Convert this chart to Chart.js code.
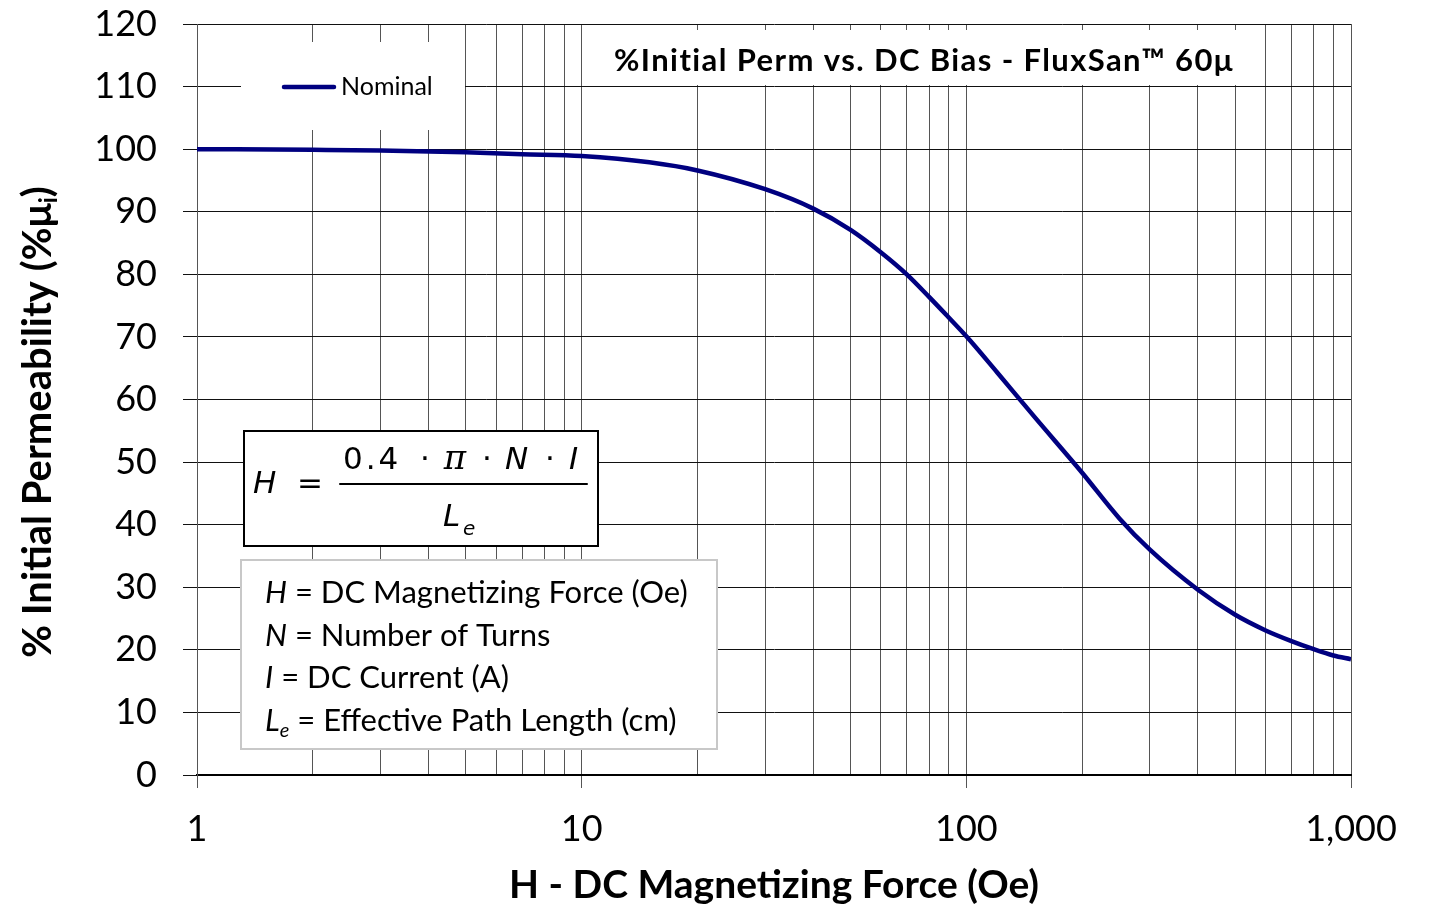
<!DOCTYPE html>
<html>
<head>
<meta charset="utf-8">
<title>%Initial Perm vs. DC Bias - FluxSan™ 60μ</title>
<script src="https://cdn.jsdelivr.net/npm/chart.js@4.4.1/dist/chart.umd.min.js"></script>
<style>
  html, body { margin: 0; padding: 0; background: #fff; }
  #wrap { position: relative; width: 1438px; height: 914px; }
</style>
</head>
<body>
<div id="wrap"><canvas id="permChart"></canvas></div>
<script>
// H (Oe) sample points
const hOersted = [1, 2, 3, 5, 7, 10, 15, 20, 30, 40, 50, 60, 70, 80, 90, 100, 120, 150, 200, 250, 300, 400, 500, 600, 700, 800, 900, 1000];
// % of initial permeability, nominal curve
const permNominal = [100, 99.9, 99.8, 99.5, 99.2, 98.9, 97.9, 96.6, 93.6, 90.5, 87.1, 83.5, 80.0, 76.4, 73.1, 70.1, 64.4, 57.3, 48.3, 41.0, 36.0, 29.6, 25.6, 23.1, 21.4, 20.1, 19.1, 18.5];

const yTicks = [0, 10, 20, 30, 40, 50, 60, 70, 80, 90, 100, 110, 120];
const xGridValues = [1, 2, 3, 4, 5, 6, 7, 8, 9, 10, 20, 30, 40, 50, 60, 70, 80, 90, 100, 200, 300, 400, 500, 600, 700, 800, 900, 1000];
const xDecades = [1, 10, 100, 1000];
const xTickLabels = ["1", "10", "100", "1,000"];

const chartTitle = "%Initial Perm vs. DC Bias - FluxSan™ 60μ";
const xTitle = "H - DC Magnetizing Force (Oe)";

const NAVY = "#000080";

Chart.defaults.font.family = "Lato, 'Open Sans', sans-serif";
Chart.defaults.color = "#000";

function drawRuns(ctx, runs, x, y) {
  runs.forEach((r) => {
    ctx.font = r.font;
    ctx.fillText(r.text, x, y + (r.dy || 0));
    x += ctx.measureText(r.text).width;
  });
  return x;
}

function runsWidth(ctx, runs) {
  let w = 0;
  runs.forEach((r) => {
    ctx.font = r.font;
    w += ctx.measureText(r.text).width;
  });
  return w;
}

function drawTitleBox(ctx) {
  ctx.fillStyle = "#fff";
  ctx.fillRect(598, 30, 650, 55);
  ctx.fillStyle = "#000";
  ctx.font = "bold 31px Lato";
  ctx.letterSpacing = "1.4px";
  ctx.textAlign = "center";
  ctx.fillText(chartTitle, 924, 71);
  ctx.letterSpacing = "0px";
  ctx.textAlign = "left";
}

function drawLegendBox(ctx, ds) {
  ctx.fillStyle = "#fff";
  ctx.fillRect(241, 42, 224, 88);
  ctx.strokeStyle = ds.borderColor;
  ctx.lineWidth = 4.5;
  ctx.lineCap = "round";
  ctx.beginPath();
  ctx.moveTo(284, 87);
  ctx.lineTo(334, 87);
  ctx.stroke();
  ctx.fillStyle = "#000";
  ctx.font = "25px Lato";
  ctx.fillText(ds.label, 341, 95);
}

function drawFormulaBox(ctx) {
  ctx.fillStyle = "#fff";
  ctx.fillRect(243, 430, 356, 117);
  ctx.strokeStyle = "#000";
  ctx.lineWidth = 2;
  ctx.strokeRect(244, 431, 354, 115);

  const sans = "31px 'DejaVu Sans'";
  const sansIt = "italic 31px 'DejaVu Sans'";
  ctx.fillStyle = "#000";

  ctx.font = sansIt;
  ctx.fillText("H", 253, 493);
  ctx.font = sans;
  ctx.textAlign = "center";
  ctx.fillText("=", 310, 493);

  // numerator
  ctx.textAlign = "left";
  ctx.font = sans;
  ctx.letterSpacing = "3px";
  ctx.fillText("0.4", 343, 469);
  ctx.letterSpacing = "0px";
  ctx.textAlign = "center";
  ctx.fillText("·", 425, 469);
  ctx.font = "italic 34px 'DejaVu Serif'";
  ctx.fillText("π", 455, 469);
  ctx.font = sans;
  ctx.fillText("·", 487, 469);
  ctx.fillText("·", 550, 469);
  ctx.textAlign = "left";
  ctx.font = sansIt;
  ctx.fillText("N", 505, 469);
  ctx.fillText("I", 569, 469);

  // fraction bar
  ctx.lineWidth = 2;
  ctx.beginPath();
  ctx.moveTo(340, 484);
  ctx.lineTo(587, 484);
  ctx.stroke();

  // denominator
  ctx.font = sansIt;
  ctx.fillText("L", 443, 526);
  ctx.font = "italic 20px 'DejaVu Sans'";
  ctx.fillText("e", 463, 535);
}

function drawDefinitions(ctx) {
  ctx.fillStyle = "#fff";
  ctx.fillRect(240, 559, 477, 190);
  ctx.strokeStyle = "#c8c8c8";
  ctx.lineWidth = 2;
  ctx.strokeRect(241, 560, 476, 189);

  const reg = "31px Lato";
  const it = "italic 31px Lato";
  const sub = "italic 20px Lato";
  const lines = [
    [{ text: "H", font: it }, { text: " = DC Magnetizing Force (Oe)", font: reg }],
    [{ text: "N", font: it }, { text: " = Number of Turns", font: reg }],
    [{ text: "I", font: it }, { text: " = DC Current (A)", font: reg }],
    [{ text: "L", font: it }, { text: "e", font: sub, dy: 6 }, { text: " = Effective Path Length (cm)", font: reg }]
  ];
  ctx.fillStyle = "#000";
  ctx.textAlign = "left";
  lines.forEach((runs, i) => drawRuns(ctx, runs, 265, 603 + i * 42.5));
}

function drawYTitle(ctx) {
  const runs = [
    { text: "% Initial Permeability (%μ", font: "bold 40px Lato" },
    { text: "i", font: "bold 24px Lato", dy: 6 },
    { text: ")", font: "bold 40px Lato" }
  ];
  ctx.save();
  ctx.translate(51, 422);
  ctx.rotate(-Math.PI / 2);
  ctx.fillStyle = "#000";
  ctx.textAlign = "left";
  const w = runsWidth(ctx, runs);
  drawRuns(ctx, runs, -w / 2, 0);
  ctx.restore();
}

const overlayPlugin = {
  id: "overlays",
  afterDraw(chart) {
    const ctx = chart.ctx;
    ctx.save();
    ctx.textBaseline = "alphabetic";
    drawTitleBox(ctx);
    drawLegendBox(ctx, chart.data.datasets[0]);
    drawFormulaBox(ctx);
    drawDefinitions(ctx);
    drawYTitle(ctx);
    ctx.restore();
  }
};

function initPermChart() {
  const el = document.getElementById("permChart");
  if (!el || typeof Chart === "undefined") return;

  new Chart(el, {
    type: "line",
    data: {
      datasets: [{
        label: "Nominal",
        data: hOersted.map((h, i) => ({ x: h, y: permNominal[i] })),
        borderColor: NAVY,
        backgroundColor: NAVY,
        borderWidth: 4.5,
        pointRadius: 0,
        cubicInterpolationMode: "monotone",
        fill: false
      }]
    },
    options: {
      responsive: true,
      maintainAspectRatio: false,
      animation: false,
      layout: { padding: { left: 0, top: 24, right: 87, bottom: 0 } },
      plugins: {
        legend: { display: false },
        tooltip: { enabled: false }
      },
      scales: {
        x: {
          type: "logarithmic",
          min: 1,
          max: 1000,
          afterBuildTicks: (scale) => { scale.ticks = xGridValues.map((v) => ({ value: v })); },
          afterFit: (scale) => { scale.height = 139; },
          border: { display: true, color: "#000", width: 2 },
          grid: {
            color: "#555",
            lineWidth: 1,
            tickLength: 13,
            tickColor: (c) => (c.tick && xDecades.includes(c.tick.value) ? "#555" : "rgba(0,0,0,0)")
          },
          ticks: {
            autoSkip: false,
            maxRotation: 0,
            minRotation: 0,
            padding: 20,
            font: { size: 36 },
            color: "#000",
            callback: (v) => {
              const i = xDecades.indexOf(v);
              return i >= 0 ? xTickLabels[i] : "";
            }
          },
          title: {
            display: true,
            text: xTitle,
            color: "#000",
            font: { size: 39, weight: "bold" },
            padding: { top: 0, bottom: 5 }
          }
        },
        y: {
          min: 0,
          max: 120,
          afterBuildTicks: (scale) => { scale.ticks = yTicks.map((v) => ({ value: v })); },
          afterFit: (scale) => {
            scale.width = 197;
            scale.paddingTop = 0;
            scale.paddingBottom = 0;
          },
          border: { display: true, color: "#555", width: 1 },
          grid: { color: "#111", lineWidth: 1, tickLength: 14 },
          ticks: { padding: 26, font: { size: 36 }, color: "#000" }
        }
      }
    },
    plugins: [overlayPlugin]
  });
}

document.addEventListener("DOMContentLoaded", () => {
  initPermChart();
});
</script>
</body>
</html>
